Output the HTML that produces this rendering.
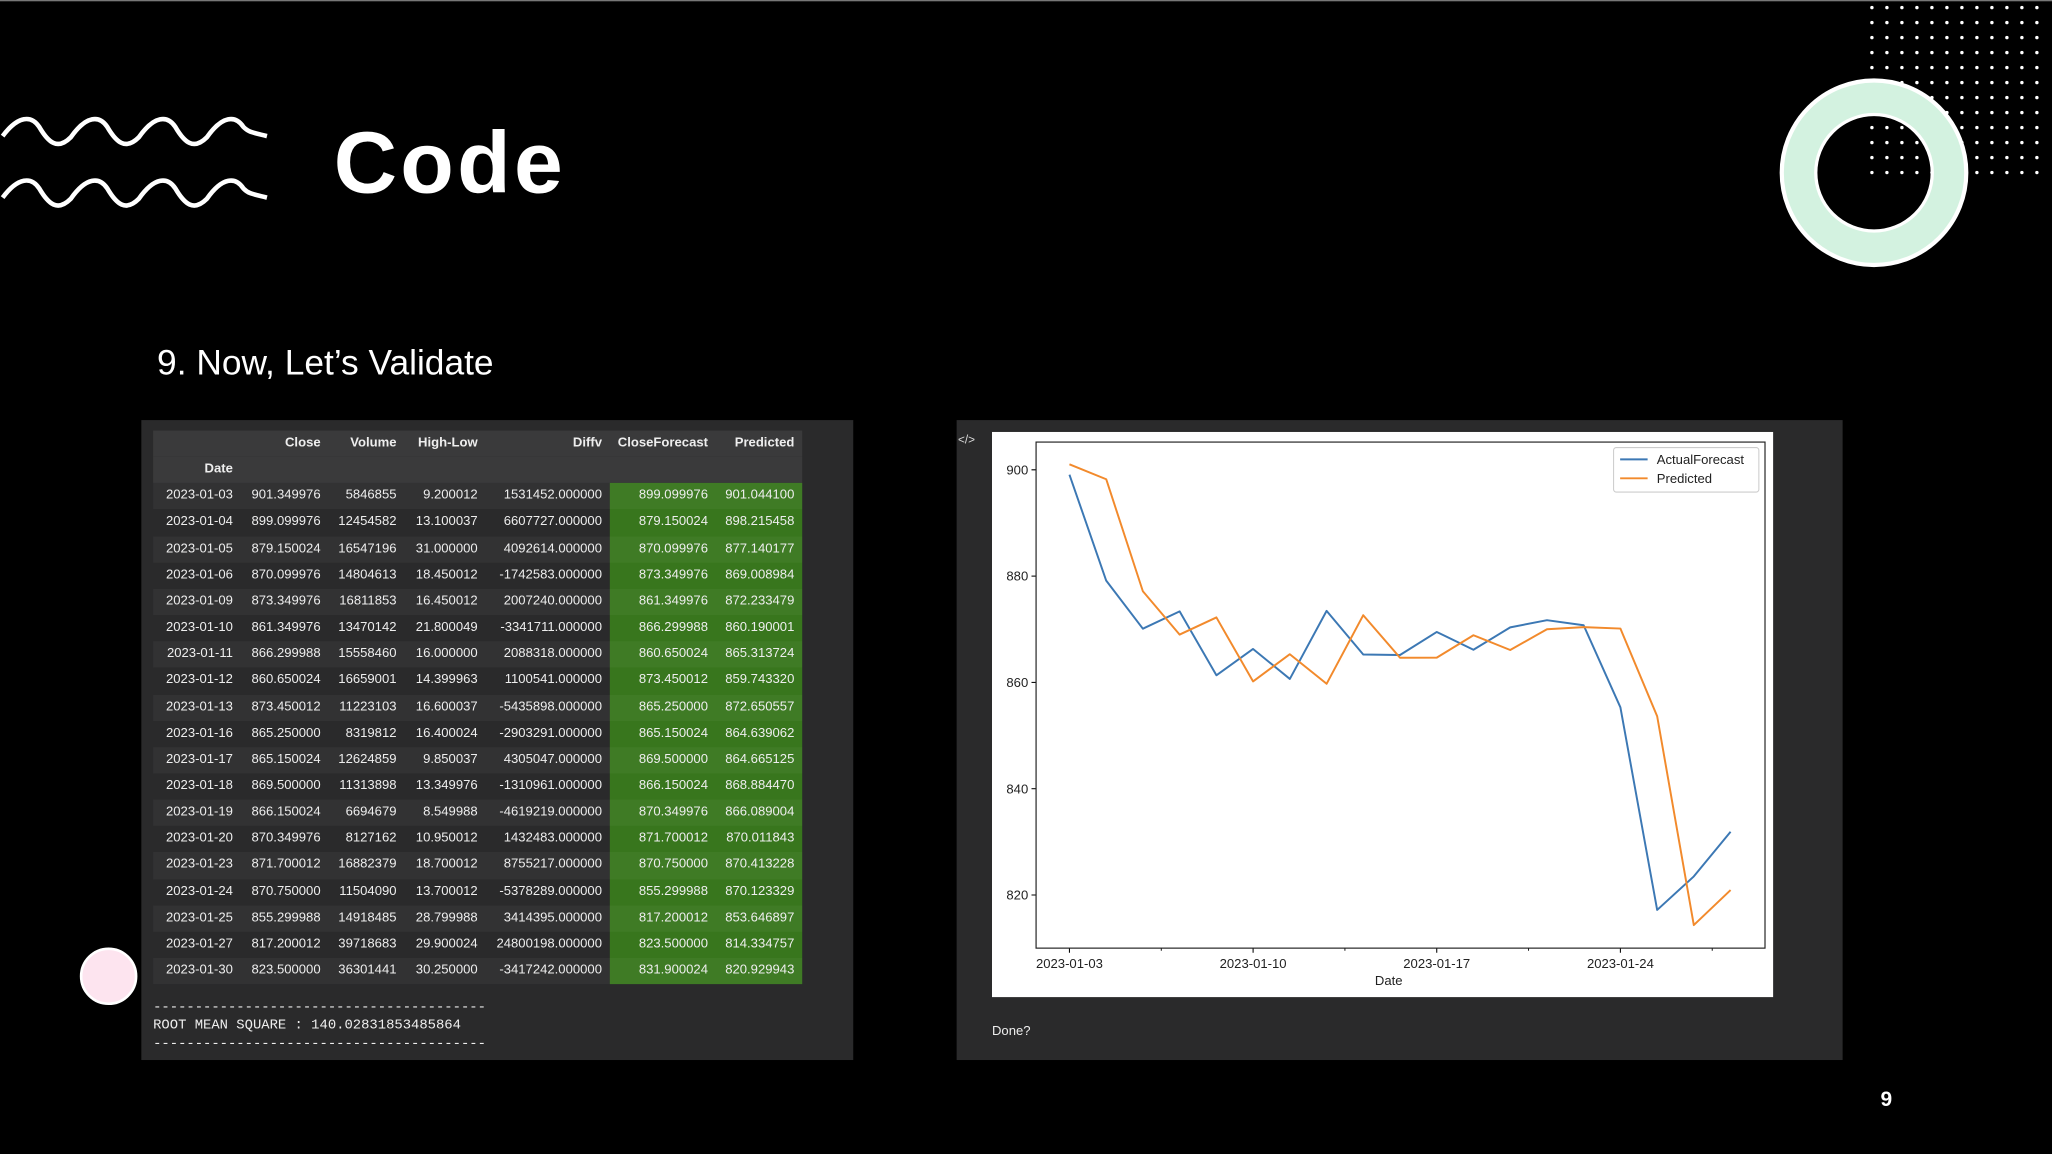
<!DOCTYPE html>
<html><head><meta charset="utf-8">
<style>
html,body{margin:0;padding:0;background:#000;}
body{width:2052px;height:1154px;overflow:hidden;position:relative;font-family:"Liberation Sans",sans-serif;}
#stage{position:absolute;left:0;top:0;width:1568px;height:882px;transform:scale(1.30867);transform-origin:0 0;background:#000;border-top:1px solid #777;box-sizing:border-box;}
.abs{position:absolute;}
.panel{position:absolute;background:#2a2a2b;}
#tbl{position:absolute;left:117px;top:328px;width:496px;font-size:10px;color:#eee;}
.trow{position:absolute;left:0;width:496px;height:20.15px;}
.cell{position:absolute;top:0;line-height:20.15px;text-align:right;white-space:nowrap;}
.mono{font-family:"Liberation Mono",monospace;font-size:10.6px;color:#eee;white-space:pre;}
</style></head>
<body>
<div id="stage">
  <svg class="abs" style="left:0;top:82px" width="215" height="90">
    <path d="M2,21 C14,5 24,5 30,14 C37,26 44,32 54,22 C66,5 76,5 82,14 C89,26 96,32 106,22 C118,5 128,5 134,14 C141,26 148,32 158,22 C170,5 180,5 186,14 C190,18 192,18 204,21" fill="none" stroke="#fff" stroke-width="3.5"/>
    <path d="M2,68 C14,52 24,52 30,61 C37,73 44,79 54,69 C66,52 76,52 82,61 C89,73 96,79 106,69 C118,52 128,52 134,61 C141,73 148,79 158,69 C170,52 180,52 186,61 C190,65 192,65 204,68" fill="none" stroke="#fff" stroke-width="3.5"/>
  </svg>
  <div class="abs" style="left:255px;top:84px;font-size:67px;font-weight:bold;color:#fff;letter-spacing:2.5px;line-height:80px;">Code</div>
  <div class="abs" style="left:120px;top:259px;font-size:27px;color:#fff;line-height:34px;">9. Now, Let’s Validate</div>

  <svg id="deco" class="abs" style="left:1340px;top:0" width="228" height="220"></svg>

  <div class="panel" style="left:108px;top:320px;width:544px;height:489px"></div>
  <div id="tbl"></div>
  <div class="abs mono" style="left:117px;top:763px">----------------------------------------</div>
  <div class="abs mono" style="left:117px;top:777px">ROOT MEAN SQUARE : 140.02831853485864</div>
  <div class="abs mono" style="left:117px;top:791px">----------------------------------------</div>

  <div class="abs" style="left:61px;top:723px;width:40px;height:40px;border-radius:50%;background:#fde4ef;border:2.5px solid #fff"></div>

  <div class="panel" style="left:731px;top:320px;width:677px;height:489px"></div>
  <div class="abs" style="left:732px;top:330px;font-size:9px;color:#ddd">&lt;/&gt;</div>
  <svg id="chart" class="abs" style="left:758px;top:329px" width="597" height="432"></svg>
  <div class="abs" style="left:758px;top:782px;font-size:10px;color:#eee">Done?</div>

  <div class="abs" style="left:1437px;top:831px;font-size:16px;font-weight:bold;color:#fff">9</div>
</div>
<script>
const dates=["2023-01-03","2023-01-04","2023-01-05","2023-01-06","2023-01-09","2023-01-10","2023-01-11","2023-01-12","2023-01-13","2023-01-16","2023-01-17","2023-01-18","2023-01-19","2023-01-20","2023-01-23","2023-01-24","2023-01-25","2023-01-27","2023-01-30"];
const closeV=["901.349976","899.099976","879.150024","870.099976","873.349976","861.349976","866.299988","860.650024","873.450012","865.250000","865.150024","869.500000","866.150024","870.349976","871.700012","870.750000","855.299988","817.200012","823.500000"];
const volumeV=["5846855","12454582","16547196","14804613","16811853","13470142","15558460","16659001","11223103","8319812","12624859","11313898","6694679","8127162","16882379","11504090","14918485","39718683","36301441"];
const highLowV=["9.200012","13.100037","31.000000","18.450012","16.450012","21.800049","16.000000","14.399963","16.600037","16.400024","9.850037","13.349976","8.549988","10.950012","18.700012","13.700012","28.799988","29.900024","30.250000"];
const diffvV=["1531452.000000","6607727.000000","4092614.000000","-1742583.000000","2007240.000000","-3341711.000000","2088318.000000","1100541.000000","-5435898.000000","-2903291.000000","4305047.000000","-1310961.000000","-4619219.000000","1432483.000000","8755217.000000","-5378289.000000","3414395.000000","24800198.000000","-3417242.000000"];
const actualForecast=[899.099976,879.150024,870.099976,873.349976,861.349976,866.299988,860.650024,873.450012,865.250000,865.150024,869.500000,866.150024,870.349976,871.700012,870.750000,855.299988,817.200012,823.500000,831.900024];
const predicted=[901.044100,898.215458,877.140177,869.008984,872.233479,860.190001,865.313724,859.743320,872.650557,864.639062,864.665125,868.884470,866.089004,870.011843,870.413228,870.123329,853.646897,814.334757,820.929943];
const yTicks=[820,840,860,880,900];
const xTickIdx=[0,5,10,15];
const xMinorIdx=[2.5,7.5,12.5,17.5];

const NS="http://www.w3.org/2000/svg";
function mk(tag,attrs,parent){const e=document.createElementNS(NS,tag);for(const k in attrs)e.setAttribute(k,attrs[k]);parent.appendChild(e);return e;}

const tbl=document.getElementById('tbl');
const colR=[61,128,186,248,343,424,490];
const RH=20.15;
function addRow(top,bg,cells,bold,name){
  const r=document.createElement('div');r.className='trow';r.style.top=top+'px';r.style.background=bg;
  
  
  tbl.appendChild(r);
  cells.forEach((t,i)=>{if(t===null)return;const c=document.createElement('div');c.className='cell';c.textContent=t;
    c.style.right=(496-colR[i])+'px';if(bold)c.style.fontWeight='bold';
    
    
    r.appendChild(c);});
  return r;
}
addRow(0,'#3a3a3b',[null,'Close','Volume','High-Low','Diffv','CloseForecast','Predicted'],true,'table-header-row');
addRow(RH,'#3a3a3b',['Date',null,null,null,null,null,null],true,'table-index-header-row');
const green=document.createElement('div');


green.style.cssText='position:absolute;left:349px;width:147px;background:#38761d;z-index:1;top:'+(2*RH)+'px;height:'+(dates.length*RH)+'px';
tbl.appendChild(green);
dates.forEach((d,i)=>{
  const r=addRow((2+i)*RH,'transparent',[d,closeV[i],volumeV[i],highLowV[i],diffvV[i],actualForecast[i].toFixed(6),predicted[i].toFixed(6)],false,'table-row');
  r.style.zIndex=2;r.style.background=i%2===0?'rgba(255,255,255,0.04)':'transparent';
});

const deco=document.getElementById('deco');
for(let r=0;r<12;r++)for(let c=0;c<12;c++){
  const d=mk('circle',{cx:90.4+c*11.46,cy:4.8+r*11.46,r:1.3,fill:'#fff'},deco);
  
}
const ring=mk('circle',{cx:92,cy:131,r:57.5,fill:'none',stroke:'#d3f2e0','stroke-width':26},deco);

mk('circle',{cx:92,cy:131,r:70.5,fill:'none',stroke:'#fff','stroke-width':3.2},deco);
mk('circle',{cx:92,cy:131,r:44.5,fill:'none',stroke:'#fff','stroke-width':2.5},deco);

const ch=document.getElementById('chart');
mk('rect',{x:0,y:0,width:597,height:432,fill:'#fff'},ch);
const OX=758,OY=329;
const pL=791.7-OX,pR=1348.7-OX,pT=336.8-OY,pB=723.5-OY;
const x0=817.2-OX,x18=1322.4-OX;
function xs(i){return x0+(x18-x0)*i/(dates.length-1);}
const y900=358-OY,y820=682.9-OY;
function ys(v){return y820+(v-820)*(y900-y820)/80;}
yTicks.forEach(t=>{
  const y=ys(t);
  mk('line',{x1:pL-3.5,x2:pL,y1:y,y2:y,stroke:'#000','stroke-width':0.8},ch);
  const tx=mk('text',{x:pL-6,y:y+3.5,'text-anchor':'end','font-size':10,fill:'#222','font-family':'Liberation Sans, sans-serif'},ch);
  tx.textContent=t;
  
  
});
xTickIdx.forEach(i=>{
  const x=xs(i);
  mk('line',{x1:x,x2:x,y1:pB,y2:pB+3.5,stroke:'#000','stroke-width':0.8},ch);
  const tx=mk('text',{x:x,y:pB+15,'text-anchor':'middle','font-size':10,fill:'#222','font-family':'Liberation Sans, sans-serif'},ch);
  tx.textContent=dates[i];
  
  
});
xMinorIdx.forEach(i=>{const x=xs(i);mk('line',{x1:x,x2:x,y1:pB,y2:pB+2,stroke:'#000','stroke-width':0.7},ch);});
const xt=mk('text',{x:(pL+pR)/2-9,y:pB+28,'text-anchor':'middle','font-size':10,fill:'#222','font-family':'Liberation Sans, sans-serif'},ch);
xt.textContent='Date';


function line(vals,color,name){
  const p=mk('polyline',{points:vals.map((v,i)=>xs(i).toFixed(1)+','+ys(v).toFixed(1)).join(' '),fill:'none',stroke:color,'stroke-width':1.5,'stroke-linejoin':'round'},ch);
  
  
}
line(actualForecast,'#3c78b4','actual-forecast-line');
line(predicted,'#f28a2c','predicted-line');
mk('rect',{x:pL,y:pT,width:pR-pL,height:pB-pT,fill:'none',stroke:'#222','stroke-width':0.9},ch);
const lg=mk('g',{},ch);


mk('rect',{x:1233-OX,y:341-OY,width:111,height:34,rx:2,fill:'#fff',stroke:'#ccc','stroke-width':0.8},lg);
[['ActualForecast','#3c78b4'],['Predicted','#f28a2c']].forEach((e,k)=>{
  const y=350-OY+k*14.5;
  mk('line',{x1:1238-OX,x2:1259-OX,y1:y,y2:y,stroke:e[1],'stroke-width':1.5},lg);
  const t=mk('text',{x:1266-OX,y:y+3.5,'font-size':10,fill:'#222','font-family':'Liberation Sans, sans-serif'},lg);
  t.textContent=e[0];
  
  
});
</script>
</body></html>
